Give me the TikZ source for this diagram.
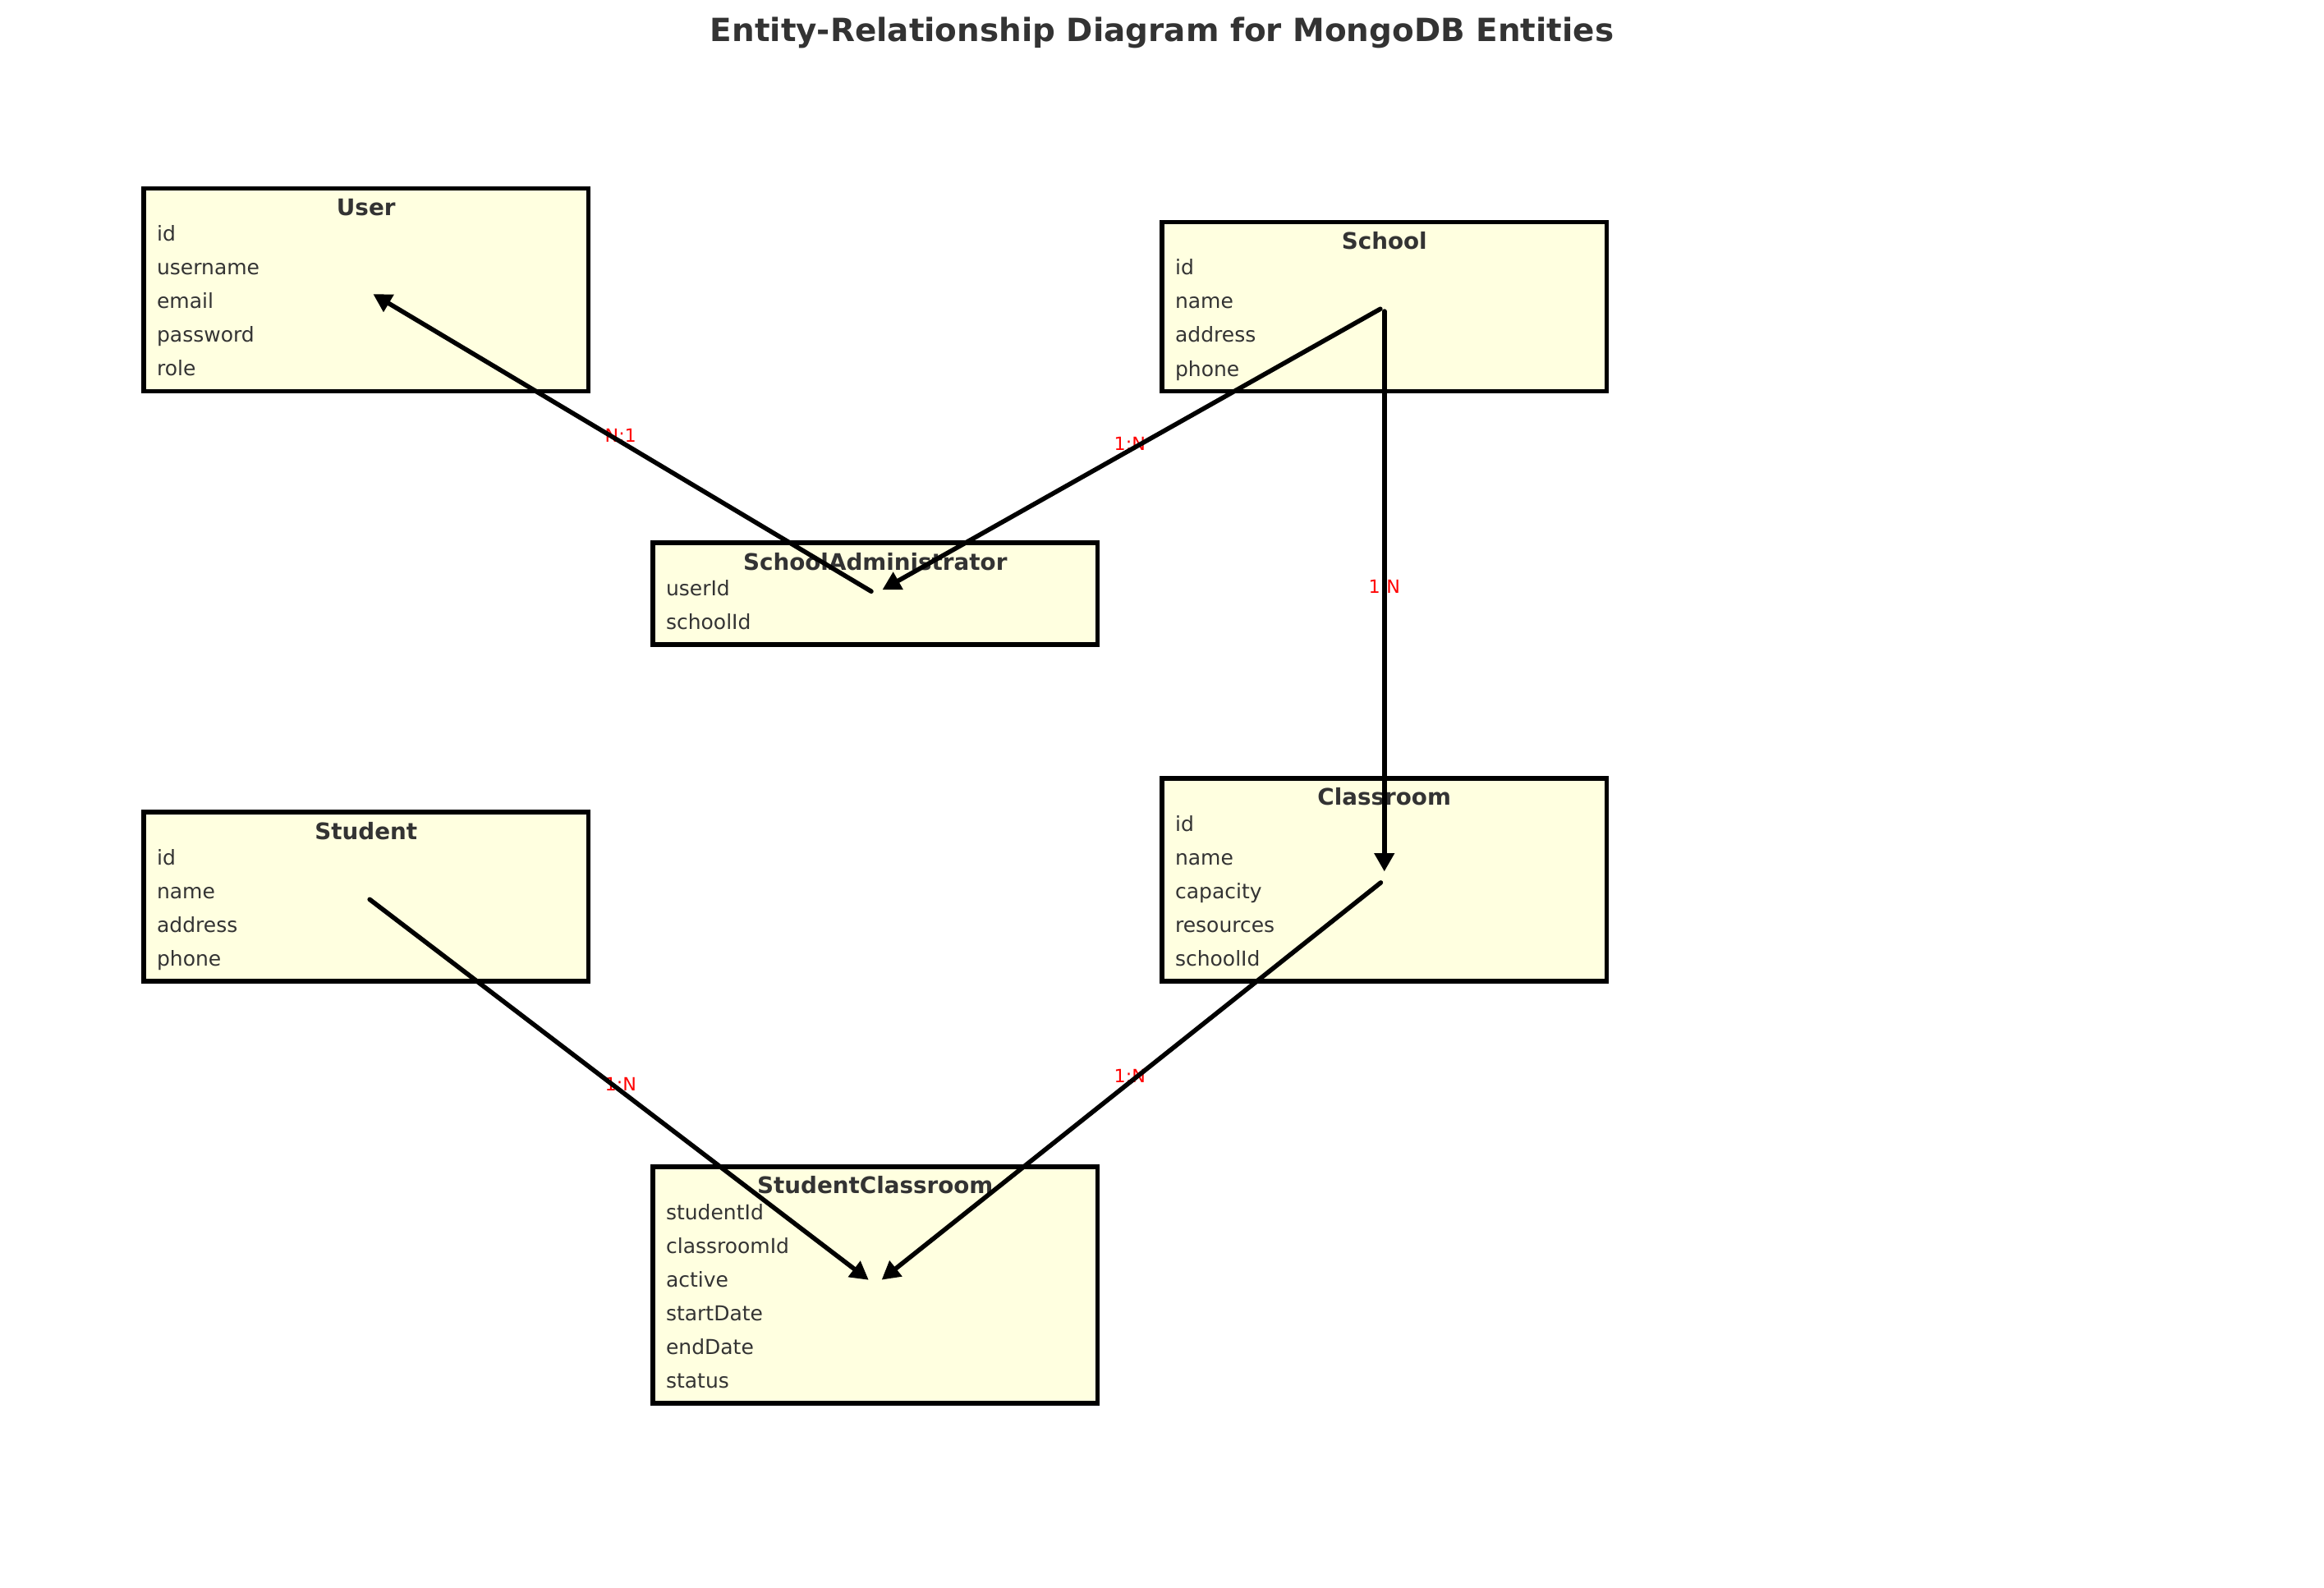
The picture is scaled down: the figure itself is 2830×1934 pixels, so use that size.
\documentclass[tikz,border=0pt]{standalone}
\usepackage{fontspec}
\setmainfont{DejaVu Sans}
\usetikzlibrary{arrows.meta,calc}
\definecolor{boxfill}{HTML}{FFFFE0}
\definecolor{txt}{HTML}{333333}
\begin{document}
\begin{tikzpicture}[x=0.36pt,y=-0.36pt,
  ebox/.style={draw=black, line width=2pt, fill=boxfill, minimum width=194.94pt, inner sep=0pt, outer sep=0pt},
  etitle/.style={anchor=base, inner sep=0pt, text=txt, font=\fontsize{10}{12}\selectfont\bfseries},
  eattr/.style={anchor=base west, inner sep=0pt, text=txt, font=\fontsize{9}{11}\selectfont},
  rel/.style={inner sep=0pt, text=red, font=\fontsize{8}{10}\selectfont},
  conn/.style={draw=black, line width=2pt, line cap=round, -{Triangle[length=8pt,width=8.4pt]}, shorten >=3.6pt, shorten <=2pt}]
\useasboundingbox (0,0) rectangle (2830,1934);
\node[anchor=base, inner sep=0pt, text=txt, font=\fontsize{14}{17}\selectfont\bfseries] (title) at (1415,50) {Entity-Relationship Diagram for MongoDB Entities};

% entity boxes
\node[ebox, minimum height=88.96pt] (user) at (445.75,352.95) {};
\node[ebox, minimum height=74.16pt] (school) at (1685.75,373.5) {};
\node[ebox, minimum height=44.57pt] (sadmin) at (1065.75,723.1) {};
\node[ebox, minimum height=74.16pt] (student) at (445.75,1092) {};
\node[ebox, minimum height=88.96pt] (classroom) at (1685.75,1071.45) {};
\node[ebox, minimum height=103.75pt] (sclass) at (1065.75,1564.9) {};

% titles
\node[etitle] (userT) at ($(user.north)+(0,33)$) {User};
\node[etitle] (schoolT) at ($(school.north)+(0,33)$) {School};
\node[etitle] (sadminT) at ($(sadmin.north)+(0,33)$) {SchoolAdministrator};
\node[etitle] (studentT) at ($(student.north)+(0,33)$) {Student};
\node[etitle] (classroomT) at ($(classroom.north)+(0,33)$) {Classroom};
\node[etitle] (sclassT) at ($(sclass.north)+(0,33)$) {StudentClassroom};

% attributes
\foreach \t [count=\i] in {id,username,email,password,role}
  \node[eattr] (user-a\i) at ($(user.north west)+(15.5,{64.2+41.1*(\i-1)})$) {\t};
\foreach \t [count=\i] in {id,name,address,phone}
  \node[eattr] (school-a\i) at ($(school.north west)+(15.5,{64.2+41.1*(\i-1)})$) {\t};
\foreach \t [count=\i] in {userId,schoolId}
  \node[eattr] (sadmin-a\i) at ($(sadmin.north west)+(15.5,{64.2+41.1*(\i-1)})$) {\t};
\foreach \t [count=\i] in {id,name,address,phone}
  \node[eattr] (student-a\i) at ($(student.north west)+(15.5,{64.2+41.1*(\i-1)})$) {\t};
\foreach \t [count=\i] in {id,name,capacity,resources,schoolId}
  \node[eattr] (classroom-a\i) at ($(classroom.north west)+(15.5,{64.2+41.1*(\i-1)})$) {\t};
\foreach \t [count=\i] in {studentId,classroomId,active,startDate,endDate,status}
  \node[eattr] (sclass-a\i) at ($(sclass.north west)+(15.5,{64.2+41.1*(\i-1)})$) {\t};

% relationship labels
\node[rel] (l1) at ($(sadmin.center)!0.5!(user.center)+(0,-7.7)$) {N:1};
\node[rel] (l2) at ($(school.center)!0.5!(sadmin.center)+(0,-7.7)$) {1:N};
\node[rel] (l3) at ($(school.center)!0.5!(classroom.center)+(0,-7.7)$) {1:N};
\node[rel] (l4) at ($(student.center)!0.5!(sclass.center)+(0,-7.7)$) {1:N};
\node[rel] (l5) at ($(classroom.center)!0.5!(sclass.center)+(0,-7.7)$) {1:N};

% connectors
\draw[conn] (sadmin.center) -- (user.center);
\draw[conn] (school.center) -- (sadmin.center);
\draw[conn] (school.center) -- (classroom.center);
\draw[conn] (student.center) -- (sclass.center);
\draw[conn] (classroom.center) -- (sclass.center);
\end{tikzpicture}
\end{document}
